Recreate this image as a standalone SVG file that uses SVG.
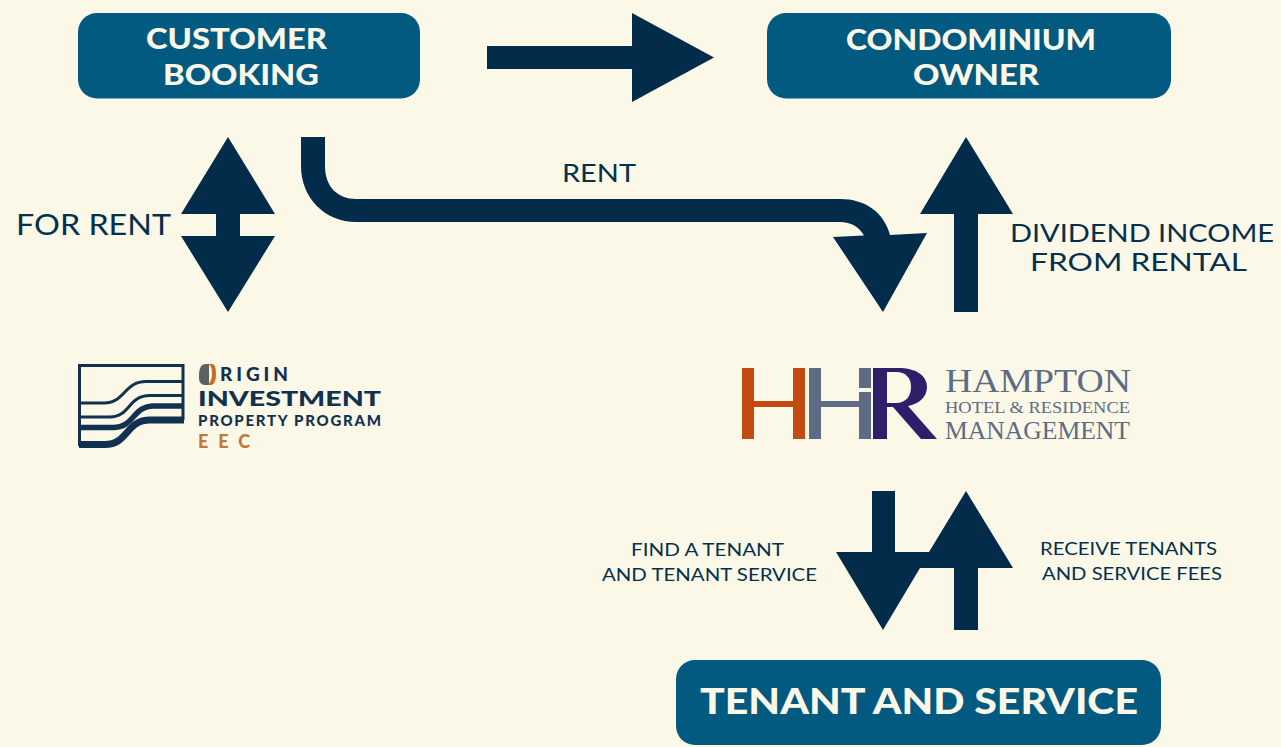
<svg xmlns="http://www.w3.org/2000/svg" width="1281" height="747" viewBox="0 0 1281 747">
<defs><style>
.node{fill:#035a80}
.nt{font-family:Lato,"Open Sans",sans-serif;font-weight:900;fill:#fbf8e8}
.lb{font-family:Lato,"Open Sans",sans-serif;fill:#04304d}
.arrow{fill:#022c4a}
.slate{fill:#5d6b84}
.serif{font-family:"Liberation Serif",serif;fill:#5d6b84}
.org{font-family:Lato,sans-serif;font-weight:900;fill:#12304f}
.wave{fill:none;stroke:#12304f}
</style></defs>
<rect width="1281" height="747" fill="#fbf8e8"/>
<g id="connectors">
<path class="arrow" d="M487 46H632V13L714 57.500L632 102V69H487Z"/>
<path class="arrow" d="M228 137L275 214H240V236H275L228 312L181 236H216V214H181Z"/>
<path class="arrow" d="M301 137H325V166C325 187 338 199 356 199H840C865 199 884 212 890 235L927 233L883 312L833 237L864 235.500C859 227 851 222 840 222H356C325 222 301 198 301 166Z"/>
<path class="arrow" d="M966 137L1013 214H978V312H954V214H920Z"/>
<path class="arrow" d="M872 491H895V552H929L966 491L1013 568H978V630H954V568H920L883 630L836 552H872Z"/>
</g>
<g id="customer-booking">
<rect class="node" x="78" y="13" width="342" height="85.500" rx="19"/>
<text class="nt" x="146" y="49" font-size="29" textLength="181" lengthAdjust="spacingAndGlyphs">CUSTOMER</text>
<text class="nt" x="163" y="85" font-size="29" textLength="156" lengthAdjust="spacingAndGlyphs">BOOKING</text>
</g>
<g id="condominium-owner">
<rect class="node" x="767" y="13" width="404" height="85.500" rx="19"/>
<text class="nt" x="846" y="50" font-size="29" textLength="250" lengthAdjust="spacingAndGlyphs">CONDOMINIUM</text>
<text class="nt" x="913" y="85" font-size="29" textLength="126" lengthAdjust="spacingAndGlyphs">OWNER</text>
</g>
<g id="tenant-and-service">
<rect class="node" x="676" y="660" width="485" height="85" rx="19"/>
<text class="nt" x="700" y="714" font-size="36" textLength="438" lengthAdjust="spacingAndGlyphs">TENANT AND SERVICE</text>
</g>
<g id="labels">
<text class="lb" x="16" y="235" font-size="28" textLength="155" lengthAdjust="spacingAndGlyphs">FOR RENT</text>
<text class="lb" x="562" y="182" font-size="25.500" textLength="74" lengthAdjust="spacingAndGlyphs">RENT</text>
<text class="lb" x="1010" y="242" font-size="25" textLength="264" lengthAdjust="spacingAndGlyphs">DIVIDEND INCOME</text>
<text class="lb" x="1030" y="271" font-size="25" textLength="217" lengthAdjust="spacingAndGlyphs">FROM RENTAL</text>
<text class="lb" x="631" y="556" font-size="18" textLength="153" lengthAdjust="spacingAndGlyphs">FIND A TENANT</text>
<text class="lb" x="602" y="581" font-size="18" textLength="215" lengthAdjust="spacingAndGlyphs">AND TENANT SERVICE</text>
<text class="lb" x="1040" y="555" font-size="18" textLength="177" lengthAdjust="spacingAndGlyphs">RECEIVE TENANTS</text>
<text class="lb" x="1042" y="580" font-size="18" textLength="180" lengthAdjust="spacingAndGlyphs">AND SERVICE FEES</text>
</g>
<g id="origin-logo">
<path class="wave" stroke-width="3" d="M183 420V365.500H79.500V446"/>
<path class="wave" stroke-width="3" d="M79 403H104C125 403 124 381.500 146 381.500H184"/>
<path class="wave" stroke-width="3" d="M79 417H110C130 417 128 395.500 150 395.500H184"/>
<path class="wave" stroke-width="5.500" d="M79 427.500H113C135 427.500 132 406 154 406H184"/>
<path class="wave" stroke-width="7" d="M79 444.500H105C128 444.500 126 420 150 420H184"/>
<path d="M199 375C199 367 202 364 206 364H209V385H205C201 385 199 382 199 378Z" fill="#5f6063"/>
<path d="M209 364H212C215 364 216 368 216 374C216 381 214 385 211 385H208C211 381 212 378 212 374C212 369 211 366 209 364Z" fill="#c9701f"/>
<text class="org" x="220" y="381" font-size="19" textLength="68">RIGIN</text>
<text class="org" x="198" y="406" font-size="20" textLength="183" lengthAdjust="spacingAndGlyphs">INVESTMENT</text>
<text class="org" x="198" y="426" font-size="15" font-weight="700" textLength="183">PROPERTY PROGRAM</text>
<text x="198" y="448" font-family="Lato,sans-serif" font-weight="900" font-size="18" fill="#c17a35" textLength="52">EEC</text>
</g>
<g id="hhr-logo">
<path fill="#c44a14" d="M742 368H754V401H793V368H805V439H793V407H754V439H742Z"/>
<path class="slate" d="M809 368H821V401H859V392H871V439H859V407H821V439H809Z"/>
<rect class="slate" x="859" y="368" width="12" height="20"/>
<path fill="#2e1f6b" fill-rule="evenodd" d="M873 368H898C917 368 927 376 927 387C927 397 919 404 908 406L937 439H921L893 407H887V439H873ZM887 372V403H896C906 403 911 396 911 387C911 378 906 372 896 372Z"/>
<text class="serif" x="945" y="392" font-size="34" textLength="186" lengthAdjust="spacingAndGlyphs">HAMPTON</text>
<text class="serif" x="945" y="413" font-size="17" textLength="185" lengthAdjust="spacingAndGlyphs">HOTEL &amp; RESIDENCE</text>
<text class="serif" x="945" y="439" font-size="26" textLength="185" lengthAdjust="spacingAndGlyphs">MANAGEMENT</text>
</g>
</svg>
